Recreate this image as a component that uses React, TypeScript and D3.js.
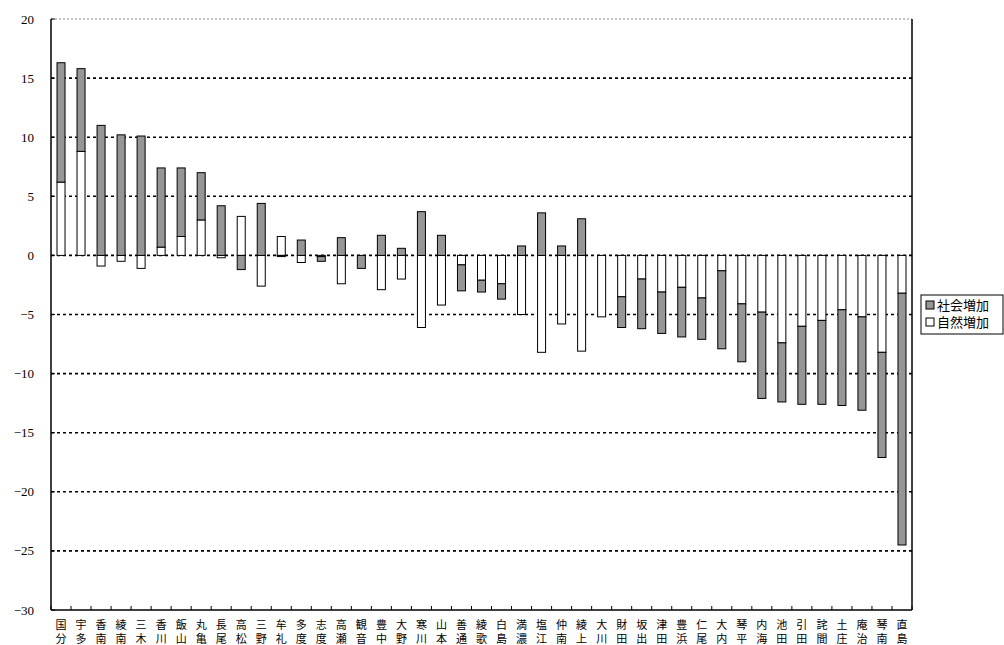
import * as d3 from 'd3'
import { useEffect, useRef } from 'react'

const categories = ['国分', '宇多', '香南', '綾南', '三木', '香川', '飯山', '丸亀', '長尾', '高松', '三野', '牟礼', '多度', '志度', '高瀬', '観音', '豊中', '大野', '寒川', '山本', '善通', '綾歌', '白島', '満濃', '塩江', '仲南', '綾上', '大川', '財田', '坂出', '津田', '豊浜', '仁尾', '大内', '琴平', '内海', '池田', '引田', '詫間', '土庄', '庵治', '琴南', '直島']
// 自然増加
const natural = [6.2, 8.8, -0.9, -0.5, -1.1, 0.7, 1.6, 3.0, -0.2, 3.3, -2.6, 1.6, -0.6, -0.1, -2.4, 0, -2.9, -2.0, -6.1, -4.2, -0.8, -2.1, -2.4, -5.0, -8.2, -5.8, -8.1, -5.2, -3.5, -2.0, -3.1, -2.7, -3.6, -1.3, -4.1, -4.8, -7.4, -6.0, -5.5, -4.6, -5.2, -8.2, -3.2]
// 社会増加
const social = [10.1, 7.0, 11.0, 10.2, 10.1, 6.7, 5.8, 4.0, 4.2, -1.2, 4.4, -0.1, 1.3, -0.4, 1.5, -1.1, 1.7, 0.6, 3.7, 1.7, -2.2, -1.0, -1.3, 0.8, 3.6, 0.8, 3.1, 0, -2.6, -4.2, -3.5, -4.2, -3.5, -6.6, -4.9, -7.3, -5.0, -6.6, -7.1, -8.1, -7.9, -8.9, -21.3]
const yTicks = [20, 15, 10, 5, 0, -5, -10, -15, -20, -25, -30]

const App = () => {
  const ref = useRef<SVGSVGElement>(null)
  useEffect(() => {
    const svg = d3.select(ref.current)
    svg.selectAll('*').remove()
    const width = 1004, height = 645
    const padding = { top: 19, right: 92, bottom: 35, left: 51 }
    const x = d3.scaleBand().domain(categories).range([padding.left, width - padding.right]).paddingInner(0.6).paddingOuter(0.3)
    const y = d3.scaleLinear().domain([-30, 20]).range([height - padding.bottom, padding.top])
    const num = 'Liberation Serif, DejaVu Serif, serif'
    const cjk = 'Noto Sans CJK JP, sans-serif'

    // grid lines
    svg.append('g').selectAll('line').data(yTicks.filter(t => t > -30 && t < 20)).enter().append('line')
      .attr('x1', padding.left).attr('x2', width - padding.right)
      .attr('y1', d => y(d)).attr('y2', d => y(d))
      .attr('stroke', '#000').attr('stroke-width', 1.6).attr('stroke-dasharray', '3,3')
    svg.append('line').attr('x1', padding.left).attr('x2', width - padding.right)
      .attr('y1', y(20)).attr('y2', y(20)).attr('stroke', '#888').attr('stroke-width', 1).attr('stroke-dasharray', '2,2')

    // stacked bars
    const rows = categories.map((c, i) => ({ name: c, natural: natural[i], social: social[i] }))
    const series = d3.stack<any>().keys(['natural', 'social']).offset(d3.stackOffsetDiverging)(rows)
    const colors: Record<string, string> = { natural: '#ffffff', social: '#969696' }
    series.forEach(s => {
      svg.append('g').selectAll('rect').data(s).enter().append('rect')
        .attr('x', d => x(d.data.name) as number)
        .attr('y', d => y(Math.max(d[0], d[1])))
        .attr('width', x.bandwidth())
        .attr('height', d => Math.abs(y(d[0]) - y(d[1])))
        .attr('fill', colors[s.key]).attr('stroke', '#000').attr('stroke-width', 1)
    })

    // axes frame
    svg.append('line').attr('x1', padding.left).attr('x2', padding.left).attr('y1', y(20)).attr('y2', y(-30)).attr('stroke', '#000').attr('stroke-width', 1.5)
    svg.append('line').attr('x1', width - padding.right).attr('x2', width - padding.right).attr('y1', y(20)).attr('y2', y(-30)).attr('stroke', '#000').attr('stroke-width', 1.5)
    svg.append('line').attr('x1', padding.left).attr('x2', width - padding.right).attr('y1', y(-30)).attr('y2', y(-30)).attr('stroke', '#000').attr('stroke-width', 1.5)

    // y ticks
    svg.append('g').selectAll('line').data(yTicks).enter().append('line')
      .attr('x1', padding.left).attr('x2', padding.left + 4).attr('y1', d => y(d)).attr('y2', d => y(d)).attr('stroke', '#000')
    svg.append('g').selectAll('text').data(yTicks).enter().append('text')
      .attr('x', 34).attr('y', d => y(d)).attr('dy', '0.35em').attr('text-anchor', 'end')
      .attr('font-family', num).attr('font-size', 13).text(d => d3.format('')(d))

    // x ticks
    const step = x.step()
    const start = padding.left
    svg.append('g').selectAll('line').data(d3.range(categories.length + 1)).enter().append('line')
      .attr('x1', i => start + i * step).attr('x2', i => start + i * step)
      .attr('y1', y(-30)).attr('y2', y(-30) - 4).attr('stroke', '#000')

    // x labels (vertical two-character)
    const lbl = svg.append('g').selectAll('g').data(categories).enter().append('g')
      .attr('transform', d => `translate(${(x(d) as number) + x.bandwidth() / 2},0)`)
    lbl.append('text').attr('y', 629).attr('text-anchor', 'middle').attr('font-family', cjk).attr('font-size', 11).text(d => d[0])
    lbl.append('text').attr('y', 643).attr('text-anchor', 'middle').attr('font-family', cjk).attr('font-size', 11).text(d => d[1])

    // legend
    const lg = svg.append('g').attr('transform', 'translate(921,295)')
    lg.append('rect').attr('width', 82).attr('height', 39).attr('fill', '#fff').attr('stroke', '#000')
    const items = [{ label: '社会増加', color: '#969696' }, { label: '自然増加', color: '#ffffff' }]
    items.forEach((it, i) => {
      lg.append('rect').attr('x', 5).attr('y', 6 + i * 17).attr('width', 8).attr('height', 8).attr('fill', it.color).attr('stroke', '#000')
      lg.append('text').attr('x', 16).attr('y', 15 + i * 17).attr('font-family', cjk).attr('font-size', 13).text(it.label)
    })
  }, [])
  return (
    <div style={{ position: 'absolute', left: 0, top: 0 }}>
      <svg ref={ref} width={1004} height={645} style={{ display: 'block', background: '#fff' }} />
    </div>
  )
}
export default App
